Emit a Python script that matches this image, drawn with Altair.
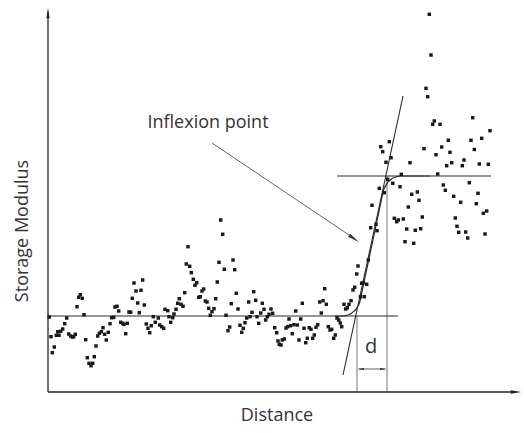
import altair as alt
import pandas as pd

# Storage modulus measured along the scan (distance and modulus in arbitrary units)
distance = [
    1.3, 3, 4.3, 6.3, 8.3, 9.7, 11, 12.7, 14.7, 16.7, 18.7, 20.7, 22.7, 24.3, 25.7, 27.3,
    29, 30.7, 32.3, 34.3, 36, 37.7, 39.3, 41, 43, 44.7, 46.3, 48, 49.7, 51.3, 53.3, 55,
    56.7, 58.3, 60.3, 62, 63.7, 65.7, 67, 69, 70.7, 72.7, 74.7, 76, 77.7, 79.3, 81, 82.7,
    84.3, 86, 88, 89.7, 91.3, 93, 94.7, 96.3, 98.3, 100, 101.7, 103.3, 105.3, 107.3, 110.3,
    111.7, 113.7, 115.7, 117, 119.7, 121, 122.7, 124.7, 126, 128, 129.7, 131.3, 133, 135,
    136.7, 138.3, 140, 141.7, 143.3, 145.3, 147, 148.7, 150.7, 152.3, 154, 155.7, 157.3,
    159, 160.7, 162.3, 164, 166, 167.7, 169.3, 171, 172.7, 174.7, 176.3, 178, 180, 181.7,
    183.3, 185, 186.7, 188.3, 190, 192, 193.7, 195.3, 197, 198.7, 200.7, 202, 204, 205.7,
    207.7, 209, 210.7, 212.7, 214.3, 216, 217.7, 219.3, 221, 223, 224.7, 226.7, 228.7, 230,
    231.3, 233, 234.3, 236.3, 238, 239.7, 241, 242.7, 244.3, 246, 247.7, 249.3, 251, 252.7,
    254.3, 256, 257.7, 259.3, 261.3, 263, 264.7, 266.3, 268, 269.7, 271.7, 273.3, 275, 276.7,
    278.3, 280.3, 282, 283.7, 285.7, 287.3, 289, 290.7, 292.3, 293.7, 296, 297.7, 299.3, 301,
    303, 305, 306.7, 308.7, 310, 312.5, 316.3, 313.7, 315.3, 318.7, 320.3, 322.7, 328, 329,
    324, 331.3, 336.3, 339.7, 344.7, 338, 343, 332.7, 334.7, 341.3, 352, 353.3, 362, 363.7,
    369.3, 371, 360.3, 346.3, 348.7, 350.3, 355.3, 374.3, 358.7, 367.3, 372.7, 357, 365.7,
    376, 389.7, 381.3, 383, 378, 379.7, 386.3, 384.7, 392, 424.7, 442, 400.3, 423, 433.7,
    393.7, 426.3, 402, 398.7, 403.7, 388, 416, 414.3, 431.3, 440.3, 421.3, 395.3, 397.3,
    405.7, 412.7, 430, 428.3, 438.7, 435.3, 407.3, 409, 410.7, 417.7, 419.7, 437,
]
modulus = [
    75, 55.3, 39.3, 45, 56.7, 60.3, 56.7, 60.7, 63, 68.3, 74, 58, 56, 55, 55.3, 57.7,
    85.3, 94.7, 97.3, 93.7, 77.3, 52.3, 34.3, 28.7, 26.3, 28.7, 35.3, 46, 56, 58.7, 60.3, 64.3,
    57.7, 52, 59.7, 68.3, 74.3, 74.7, 85, 85.7, 81, 69.7, 68.7, 67.7, 58.3, 68.7, 80, 79.7,
    93.7, 109, 101, 89, 79.3, 101.7, 112, 87, 68, 63.7, 59.3, 66.3, 75.3, 69.7, 74,
    67, 65.3, 63.7, 82.7, 81.3, 75.3, 69.7, 74.3, 78, 82.7, 88.7, 93.3, 87.7, 85.7,
    99.3, 128, 145.3, 125.7, 119.3, 112.7, 106.7, 109.3, 94.7, 95.3, 101, 103, 91,
    90, 83.7, 76.7, 80.3, 83.3, 93.3, 110, 129.7, 172, 157.7, 122.7, 76.7, 61.3, 65,
    88.3, 132, 122.3, 98.7, 83, 66.7, 59.7, 63.7, 69.3, 74, 90, 75.3, 79.7, 100.3,
    91.7, 75.3, 68.7, 79, 88.7, 82.7, 72, 75.3, 77.7, 83, 78.7, 64.3, 59.3, 51,
    47.7, 47, 52, 53, 64, 65.3, 73, 66.3, 58.3, 67.3, 81, 67, 52, 73,
    88.7, 63.7, 49.3, 53.7, 64.3, 62.7, 53.7, 57, 64.7, 67.3, 90, 79, 91.3, 103.3,
    87.7, 65.3, 62, 62.7, 53.7, 57, 74, 72, 69, 65.3, 87.7, 83, 84.3, 87.7,
    91.3, 102, 104.7, 118, 126, 95.3, 95.3, 108.7, 109.3, 107.7, 132, 164.3, 167.7, 161.3,
    186.7, 203.7, 199.3, 212.7, 208.7, 229.7, 234.3, 245.3, 240.3, 250.3, 205.3, 217.7, 229.3, 197.7,
    200, 191.7, 185, 173.7, 170.3, 172, 173, 175, 163, 161.7, 163.3, 150.3, 148.7,
    243.3, 218, 377.7, 337, 303.7, 295.3, 271, 267.7, 267.7, 274.3, 261.3, 251.7, 251.7, 253.7,
    245, 242.5, 239.7, 226.3, 229.3, 237.3, 232, 226.3, 228, 227.7, 209.3, 207, 201.7,
    195.7, 189.7, 198.7, 188.3, 181, 178.7, 174, 165.7, 159.7, 160, 154, 158,
]

# Fitted step: lower plateau, steep rise, upper plateau
fit_distance = [287, 294, 297.2, 300, 303.1, 307.9, 311.1, 312, 335.5, 336.7, 339.7, 344.4, 350, 353, 382]
fit_modulus = [76, 76, 76.3, 77, 78.4, 82.5, 88, 91, 202, 204.6, 209.8, 213.7, 215.7, 216, 216]

# Construction lines: plateaus, tangent at the inflexion point, onset and end markers
lower_plateau = [0, 350, 76]            # x from, x to, level
upper_plateau = [289, 443, 216]
tangent_start = [295, 17]
tangent_end = [355, 296]
onset_x = 309
end_x = 339
d_level = 23
pointer_start = [164, 249]
pointer_end = [311, 150]

x_scale = alt.Scale(domain=[-48, 476], nice=False, zero=False)
y_scale = alt.Scale(domain=[-41, 392], nice=False, zero=False)
X = lambda f: alt.X(f, type="quantitative", scale=x_scale, axis=None)
Y = lambda f: alt.Y(f, type="quantitative", scale=y_scale, axis=None)

points = pd.DataFrame({"distance": distance, "modulus": modulus})
fit = pd.DataFrame({"distance": fit_distance, "modulus": fit_modulus, "order": range(len(fit_distance))})


def segments(rows):
    return pd.DataFrame(rows, columns=["x", "y", "x2", "y2"])


def rules(df, color, width):
    return alt.Chart(df).mark_rule(color=color, strokeWidth=width).encode(
        x=X("x"), y=Y("y"), x2="x2", y2="y2"
    )


axes_df = segments([[0, 0, 0, 380], [0, 0, 468, 0]])
dark_df = segments([
    [lower_plateau[0], lower_plateau[2], lower_plateau[1], lower_plateau[2]],
    [upper_plateau[0], upper_plateau[2], upper_plateau[1], upper_plateau[2]],
    [tangent_start[0], tangent_start[1], tangent_end[0], tangent_end[1]],
])
marker_df = segments([[onset_x, 0, onset_x, lower_plateau[2]], [end_x, 0, end_x, upper_plateau[2]]])
d_df = segments([[onset_x + 2, d_level, end_x - 2, d_level]])
pointer_df = segments([[pointer_start[0], pointer_start[1], pointer_end[0] - 4, pointer_end[1] + 3]])

arrow_right = "M1,0L-1,-0.32L-1,0.32Z"
arrow_up = "M0,-1L0.3,1L-0.3,1Z"
heads = pd.DataFrame({
    "x": [0, 468, onset_x + 3.5, end_x - 3.5, 306],
    "y": [379, 0, d_level, d_level, 153.4],
    "shape": [arrow_up, arrow_right, arrow_right, arrow_right, arrow_right],
    "angle": [0, 0, 180, 0, 34],
    "size": [110, 110, 49, 49, 144],
})


def head(i, color):
    row = heads.iloc[[i]]
    return alt.Chart(row).mark_point(
        shape=row["shape"].iloc[0], filled=True, color=color, opacity=1,
        size=float(row["size"].iloc[0]), angle=float(row["angle"].iloc[0]), strokeWidth=0,
    ).encode(x=X("x"), y=Y("y"))


labels = pd.DataFrame({
    "x": [160, 323],
    "y": [269, 45],
    "text": ["Inflexion point", "d"],
})

font = "Open Sans"
text_color = "#333333"

scatter = alt.Chart(points).mark_square(size=12, color="#1a1a1a", opacity=1).encode(
    x=X("distance"), y=Y("modulus")
)
fit_line = alt.Chart(fit).mark_line(color="#2a2a2a", strokeWidth=1.2).encode(
    x=X("distance"), y=Y("modulus"), order="order"
)

inflexion_label = alt.Chart(labels.iloc[[0]]).mark_text(
    font=font, fontSize=18, color=text_color, align="center", baseline="middle"
).encode(x=X("x"), y=Y("y"), text="text")
d_label = alt.Chart(labels.iloc[[1]]).mark_text(
    font=font, fontSize=20, color=text_color, align="center", baseline="middle"
).encode(x=X("x"), y=Y("y"), text="text")

x_title = alt.Chart(pd.DataFrame({"x": [229], "y": [-24], "text": ["Distance"]})).mark_text(
    font=font, fontSize=18, color=text_color, align="center", baseline="middle"
).encode(x=X("x"), y=Y("y"), text="text")
y_title = alt.Chart(pd.DataFrame({"x": [-25], "y": [161], "text": ["Storage Modulus"]})).mark_text(
    font=font, fontSize=18, color=text_color, align="center", baseline="middle", angle=270
).encode(x=X("x"), y=Y("y"), text="text")

chart = alt.layer(
    rules(marker_df, "#777777", 1.0),
    rules(d_df, "#8a8a8a", 1.3),
    rules(pointer_df, "#555555", 0.9),
    rules(dark_df, "#2a2a2a", 1.1),
    rules(axes_df, "#222222", 1.3),
    fit_line,
    scatter,
    head(0, "#222222"),
    head(1, "#222222"),
    head(2, "#333333"),
    head(3, "#333333"),
    head(4, "#333333"),
    inflexion_label,
    d_label,
    x_title,
    y_title,
).properties(
    width=524, height=433, autosize=alt.AutoSizeParams(type="none"), padding=0,
    background="white",
).configure_view(stroke=None)

chart.save("out.html", embed_options={"renderer": "svg", "actions": False})
